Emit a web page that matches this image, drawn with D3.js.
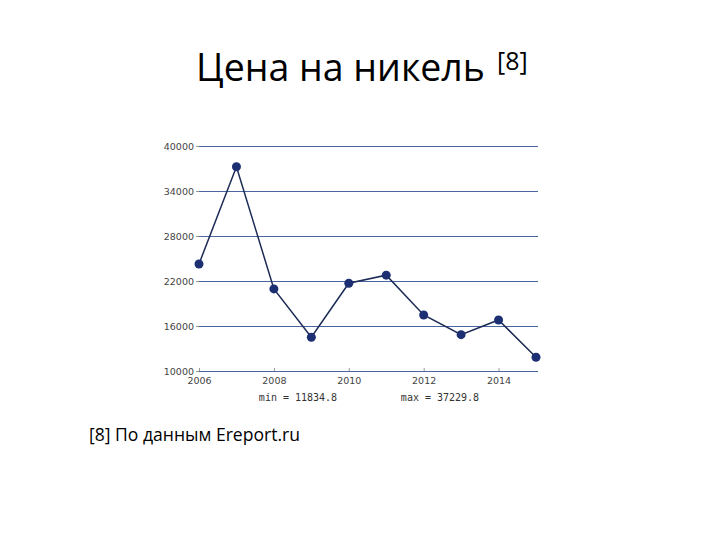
<!DOCTYPE html>
<html>
<head>
<meta charset="utf-8">
<script src="https://cdn.jsdelivr.net/npm/d3@7"></script>
<style>
  body { margin: 0; background: #fff; }
  svg { display: block; }
</style>
</head>
<body>
<div id="chart"></div>
<script>
// chart data
var years = [2006, 2007, 2008, 2009, 2010, 2011, 2012, 2013, 2014, 2015];
var prices = [24270, 37229.8, 20950, 14500, 21700, 22780, 17470, 14850, 16800, 11834.8];
var yTicks = [10000, 16000, 22000, 28000, 34000, 40000];
var xTicks = [2006, 2008, 2010, 2012, 2014];

var svgWidth = 720;
var svgHeight = 540;

var margin = { top: 146, right: 182, bottom: 169, left: 199 };
var width = svgWidth - margin.left - margin.right;
var height = svgHeight - margin.top - margin.bottom;

var svg = d3.select("#chart")
  .append("svg")
  .attr("width", svgWidth)
  .attr("height", svgHeight);

// title
var title = svg.append("text")
  .attr("x", 196)
  .attr("y", 81)
  .style("font-family", "'Open Sans', sans-serif")
  .style("font-size", "40px")
  .style("fill", "#000")
  .text("Цена на никель");

// fit title to reference width
var tw = title.node().getComputedTextLength();
title.style("font-size", (40 * 289 / tw) + "px");

svg.append("text")
  .attr("x", 497)
  .attr("y", 70)
  .style("font-family", "'Open Sans', sans-serif")
  .style("font-size", "25px")
  .text("[8]");

var chartGroup = svg.append("g")
  .attr("transform", `translate(${margin.left}, ${margin.top})`);

var xScale = d3.scaleLinear()
  .domain([2006, 2015])
  .range([0, 337]);

var yScale = d3.scaleLinear()
  .domain([10000, 40000])
  .range([height, 0]);

// horizontal grid
chartGroup.selectAll(".grid")
  .data(yTicks)
  .enter()
  .append("line")
  .attr("x1", 0)
  .attr("x2", 339)
  .attr("y1", d => yScale(d) + 0.5)
  .attr("y2", d => yScale(d) + 0.5)
  .attr("stroke", "#4a66a0")
  .attr("stroke-width", 1);

// y axis
var yAxis = d3.axisLeft(yScale)
  .tickValues(yTicks)
  .tickFormat(d3.format("d"))
  .tickSize(3)
  .tickPadding(2);

chartGroup.append("g")
  .call(yAxis)
  .call(g => g.select(".domain").remove())
  .call(g => g.selectAll("line").attr("stroke", "#999"))
  .call(g => g.selectAll("text")
    .style("font-family", "'DejaVu Sans', sans-serif")
    .style("font-size", "9.5px")
    .style("fill", "#444"));

// x axis
var xAxis = d3.axisBottom(xScale)
  .tickValues(xTicks)
  .tickFormat(d3.format("d"))
  .tickSize(-3)
  .tickPadding(6);

chartGroup.append("g")
  .attr("transform", `translate(0, ${height})`)
  .call(xAxis)
  .call(g => g.select(".domain").remove())
  .call(g => g.selectAll("line").attr("stroke", "#999"))
  .call(g => g.selectAll("text")
    .style("font-family", "'DejaVu Sans', sans-serif")
    .style("font-size", "9.5px")
    .style("fill", "#444"));

// line
var line = d3.line()
  .x((d, i) => xScale(years[i]))
  .y(d => yScale(d));

chartGroup.append("path")
  .datum(prices)
  .attr("fill", "none")
  .attr("stroke", "#1b2b55")
  .attr("stroke-width", 1.5)
  .attr("d", line);

chartGroup.selectAll("circle")
  .data(prices)
  .enter()
  .append("circle")
  .attr("cx", (d, i) => xScale(years[i]))
  .attr("cy", d => yScale(d))
  .attr("r", 4.5)
  .attr("fill", "#1c2f72");

// min / max notes
var minVal = d3.min(prices);
var maxVal = d3.max(prices);

chartGroup.append("text")
  .attr("x", 99)
  .attr("y", height + 30)
  .attr("text-anchor", "middle")
  .style("font-family", "'DejaVu Sans Mono', monospace")
  .style("font-size", "10px")
  .style("fill", "#333")
  .text("min = " + minVal);

chartGroup.append("text")
  .attr("x", 241)
  .attr("y", height + 30)
  .attr("text-anchor", "middle")
  .style("font-family", "'DejaVu Sans Mono', monospace")
  .style("font-size", "10px")
  .style("fill", "#333")
  .text("max = " + maxVal);

// footnote
var note = svg.append("text")
  .attr("x", 89)
  .attr("y", 441)
  .style("font-family", "'Open Sans', sans-serif")
  .style("font-size", "16px")
  .style("fill", "#000")
  .text("[8] По данным Ereport.ru");

var nw = note.node().getComputedTextLength();
note.style("font-size", (16 * 211 / nw) + "px");
</script>
</body>
</html>
